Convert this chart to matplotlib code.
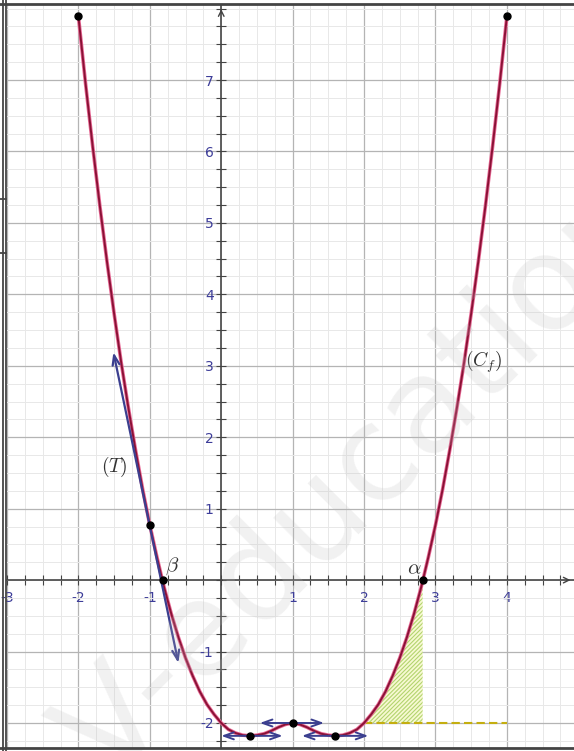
import matplotlib.pyplot as plt
import numpy as np
from matplotlib.lines import Line2D

plt.rcParams['mathtext.fontset'] = 'cm'
plt.rcParams['hatch.linewidth'] = 0.8

# curve (Cf), every 0.1 from x=-2 to x=4
curve_x = np.linspace(-2, 4, 61)
curve_y = [7.89, 6.95, 6.07, 5.24, 4.46, 3.73, 3.04, 2.41, 1.82, 1.27,
           0.77, 0.32, -0.10, -0.47, -0.80, -1.09, -1.34, -1.56, -1.74, -1.88,
           -2.00, -2.09, -2.14, -2.17, -2.18, -2.17, -2.15, -2.11, -2.06, -2.02,
           -2.00, -2.02, -2.06, -2.11, -2.15, -2.17, -2.18, -2.17, -2.14, -2.09,
           -2.00, -1.88, -1.74, -1.56, -1.34, -1.09, -0.80, -0.47, -0.10, 0.32,
           0.77, 1.27, 1.82, 2.41, 3.04, 3.73, 4.46, 5.24, 6.07, 6.95, 7.89]
curve_y = np.array(curve_y)

alpha_x = 2.82
beta_x = -0.82

# marked points
pts_x = [-2, 4, -1, beta_x, alpha_x, 0.4, 1, 1.6]
pts_y = [7.89, 7.89, 0.77, 0, 0, -2.18, -2.0, -2.18]

# tangent (T) at x=-1, ends of the arrow
tan_x = [-1.51, -0.60]
tan_y = [3.19, -1.16]

# horizontal tangents: (x start, x end, y)
htan = [(0.0, 0.86, -2.18), (0.54, 1.44, -2.0), (1.13, 2.06, -2.18)]

xticks = [-3, -2, -1, 1, 2, 3, 4]
yticks = [-2, -1, 1, 2, 3, 4, 5, 6, 7]

fig = plt.figure(figsize=(5.74, 7.51), dpi=100)
ax = fig.add_axes([7 / 574, 3 / 751, 567 / 574, 743 / 751])
ax.set_xlim(-3.0, 4.94)
ax.set_ylim(-2.35, 8.05)

# grid
ax.set_xticks(np.arange(-3, 5, 0.25), minor=True)
ax.set_yticks(np.arange(-2.25, 8.1, 0.25), minor=True)
ax.set_xticks(xticks)
ax.set_yticks(yticks)
ax.grid(which='minor', color='#e8e8e8', linewidth=0.7)
ax.grid(which='major', color='#b4b4b4', linewidth=0.9)
ax.set_axisbelow(True)

# axes through origin
for s in ['top', 'right']:
    ax.spines[s].set_visible(False)
ax.spines['left'].set_position(('data', 0))
ax.spines['bottom'].set_position(('data', 0))
ax.spines['left'].set_color('#444444')
ax.spines['bottom'].set_color('#444444')
ax.spines['left'].set_linewidth(1.2)
ax.spines['bottom'].set_linewidth(1.2)
ax.tick_params(which='both', direction='inout', length=7, width=0.8, color='#444444')
ax.tick_params(axis='x', labelsize=10, labelcolor='#3d3d99', pad=4)
ax.tick_params(axis='y', labelsize=10, labelcolor='#3d3d99', pad=2)
ax.set_xticklabels([str(t) for t in xticks])
ax.set_yticklabels([str(t) for t in yticks])

ax.annotate('', xy=(0, 8.03), xytext=(0, 7.9),
            arrowprops=dict(arrowstyle='->', color='#444444', lw=1.0))
ax.annotate('', xy=(4.93, 0), xytext=(4.8, 0),
            arrowprops=dict(arrowstyle='->', color='#444444', lw=1.0))

# watermark
fig.text(360 / 574, 1 - 480 / 751, 'V-education', fontsize=95, rotation=45,
         ha='center', va='center', color='#bbbbbb', alpha=0.2, zorder=0.5)

# hatched area between curve and y=-2
m = (curve_x >= 2) & (curve_x <= 2.8)
hx = np.append(curve_x[m], alpha_x)
hy = np.append(curve_y[m], 0)
ax.fill_between(hx, hy, -2, facecolor='#f7f9d2', edgecolor='#b3d46e',
                hatch='/' * 8, linewidth=0, zorder=2)
ax.plot([2, 4], [-2, -2], color='#c4ae10', linestyle=(0, (4, 2)), lw=1.5, zorder=3)

# curve
ax.plot(curve_x, curve_y, color='#e86a96', lw=2.6, zorder=4, solid_capstyle='round')
ax.plot(curve_x, curve_y, color='#8a1236', lw=1.4, zorder=5, solid_capstyle='round')

# tangents
ax.annotate('', xy=(tan_x[0], tan_y[0]), xytext=(tan_x[1], tan_y[1]),
            arrowprops=dict(arrowstyle='<->,head_length=0.7,head_width=0.25',
                            color='#3b3f8f', lw=1.6, shrinkA=0, shrinkB=0), zorder=6)
for x0, x1, yy in htan:
    ax.annotate('', xy=(x0, yy), xytext=(x1, yy),
                arrowprops=dict(arrowstyle='<->,head_length=0.7,head_width=0.25',
                                color='#3b3f8f', lw=1.4, shrinkA=0, shrinkB=0), zorder=6)

ax.plot(pts_x, pts_y, 'o', color='black', markersize=5, zorder=7, clip_on=False)

# labels
ax.text(-1.5, 1.58, r'$(T)$', fontsize=14, color='#333333', ha='center', va='center')
ax.text(-0.69, 0.19, r'$\beta$', fontsize=15, color='#333333', ha='center', va='center')
ax.text(2.71, 0.16, r'$\alpha$', fontsize=15, color='#333333', ha='center', va='center')
ax.text(3.68, 3.05, r'$(C_f)$', fontsize=14, color='#333333', ha='center', va='center')

# screenshot frame
fr = '#444444'
for xp in [2.5, 6]:
    fig.add_artist(Line2D([xp / 574, xp / 574], [0, 1], color=fr, lw=1.3))
for yp in [199, 253]:
    fig.add_artist(Line2D([0, 6 / 574], [1 - yp / 751, 1 - yp / 751], color=fr, lw=1.3))
fig.add_artist(Line2D([0, 1], [1 - 4 / 751, 1 - 4 / 751], color=fr, lw=2))
fig.add_artist(Line2D([0, 1], [1 - 748 / 751, 1 - 748 / 751], color=fr, lw=2))

fig.savefig('out.png', dpi=100)
